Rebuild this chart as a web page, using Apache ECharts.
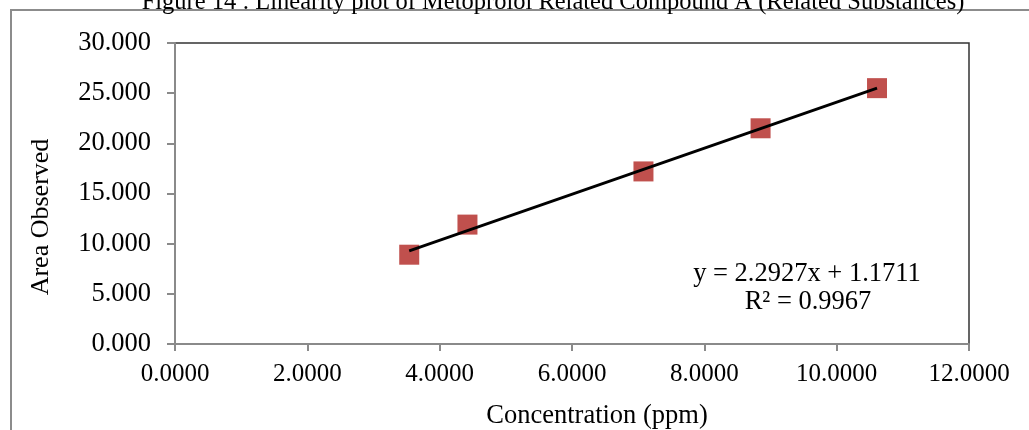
<!DOCTYPE html>
<html>
<head>
<meta charset="utf-8">
<script src="https://cdn.jsdelivr.net/npm/echarts@6/dist/echarts.min.js"></script>
<style>
html,body{margin:0;padding:0;background:#fff;}
#chart{width:1029px;height:430px;}
</style>
</head>
<body>
<div id="chart"></div>
<script>
// Data
const concentration = [3.54, 4.42, 7.08, 8.85, 10.61];
const areaObserved = [8.9, 11.9, 17.2, 21.5, 25.5];
const slope = 2.2927;
const intercept = 1.1711;
const rSquared = 0.9967;
const titleText = 'Figure 14 : Linearity plot of Metoprolol Related Compound A (Related Substances)';
const xAxisTitle = 'Concentration (ppm)';
const yAxisTitle = 'Area Observed';

const FONT = '"Liberation Serif", "Times New Roman", serif';

const points = concentration.map((x, i) => [x, areaObserved[i]]);
const xMin = Math.min(...concentration), xMax = Math.max(...concentration);
const trend = [[xMin, slope * xMin + intercept], [xMax, slope * xMax + intercept]];

const chart = echarts.init(document.getElementById('chart'));
chart.setOption({
  animation: false,
  backgroundColor: '#fff',
  grid: {
    left: 175, right: 60, top: 43, bottom: 86,
    show: true, borderColor: '#333', borderWidth: 1.5, backgroundColor: 'transparent'
  },
  xAxis: {
    type: 'value', min: 0, max: 12, interval: 2,
    axisLine: { show: true, onZero: false, lineStyle: { color: '#8a8a8a', width: 2 } },
    axisTick: { show: true, length: 7, lineStyle: { color: '#8a8a8a', width: 2 } },
    splitLine: { show: false },
    axisLabel: {
      margin: 18, color: '#000', fontFamily: FONT, fontSize: 25,
      formatter: v => v.toFixed(4)
    }
  },
  yAxis: {
    type: 'value', min: 0, max: 30, interval: 5,
    axisLine: { show: true, onZero: false, lineStyle: { color: '#8a8a8a', width: 2 } },
    axisTick: { show: true, length: 8, lineStyle: { color: '#8a8a8a', width: 2 } },
    splitLine: { show: false },
    axisLabel: {
      margin: 24, color: '#000', fontFamily: FONT, fontSize: 26.5,
      formatter: v => v.toFixed(3)
    }
  },
  series: [
    {
      type: 'scatter', data: points, symbol: 'rect', symbolSize: 20,
      itemStyle: { color: '#C0504D', opacity: 1 },
      z: 2
    },
    {
      type: 'line', data: trend, symbol: 'none',
      lineStyle: { color: '#000', width: 2.8 },
      z: 3
    }
  ],
  graphic: [
    { type: 'rect', shape: { x: 11, y: 10, width: 1100, height: 500 },
      style: { fill: 'none', stroke: '#8c8c8c', lineWidth: 2 }, silent: true },
    { type: 'text', x: 553, y: 15,
      style: { text: titleText, font: '24.5px ' + FONT, fill: '#000', textAlign: 'center', textVerticalAlign: 'bottom' } },
    { type: 'text', x: 597, y: 416,
      style: { text: xAxisTitle, font: '26.5px ' + FONT, fill: '#000', textAlign: 'center', textVerticalAlign: 'middle' } },
    { type: 'text', x: 41, y: 217, rotation: Math.PI / 2,
      style: { text: yAxisTitle, font: '26px ' + FONT, fill: '#000', textAlign: 'center', textVerticalAlign: 'middle' } },
    { type: 'text', x: 807, y: 274,
      style: { text: 'y = ' + slope.toFixed(4) + 'x + ' + intercept.toFixed(4), font: '26.5px ' + FONT, fill: '#000', textAlign: 'center', textVerticalAlign: 'middle' } },
    { type: 'text', x: 808, y: 302,
      style: { text: 'R² = ' + rSquared.toFixed(4), font: '26.5px ' + FONT, fill: '#000', textAlign: 'center', textVerticalAlign: 'middle' } }
  ]
});
</script>
</body>
</html>
